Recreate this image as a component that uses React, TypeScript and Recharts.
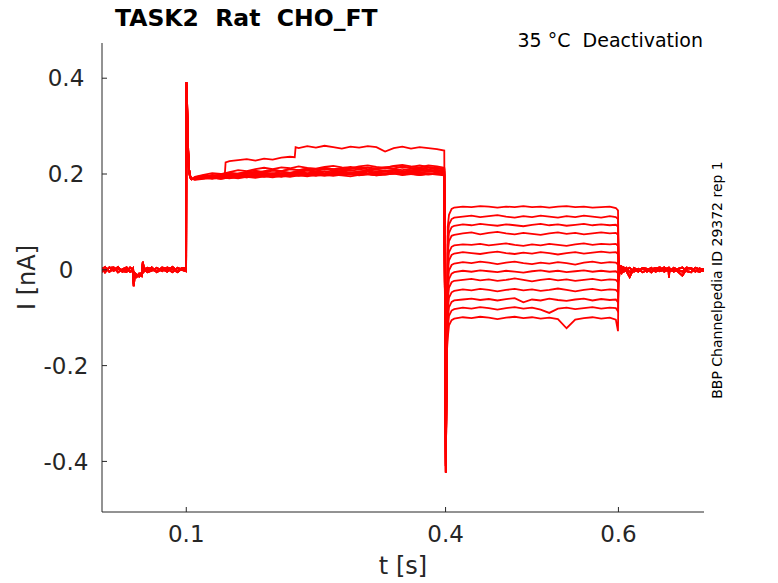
import { LineChart, Line, XAxis, YAxis } from 'recharts';

const RED = '#ff0000';
const INK = '#262626';
const FONT = '"DejaVu Sans", sans-serif';

// holding current before the first step; traces overlap, three noise variants
const baseT = [0.0025, 0.006, 0.011, 0.016, 0.021, 0.026, 0.031, 0.035, 0.0385, 0.0392, 0.0402, 0.0425, 0.0455,
  0.0485, 0.0493, 0.0497, 0.0508, 0.055, 0.06, 0.066, 0.072, 0.078, 0.084, 0.09, 0.095, 0.0998];
const baseV = [
  [0.004, -0.005, 0.005, -0.002, 0.006, -0.004, 0.001, -0.004, 0.003, -0.034, -0.016, -0.01, -0.014, -0.008, -0.004, 0.017, 0.005, -0.002, 0.005, -0.005, 0.002, -0.004, 0.006, -0.003, 0.004, 0.003],
  [-0.004, -0.001, 0.004, 0.005, -0.005, 0.001, 0.005, -0.003, -0.004, -0.026, -0.01, -0.015, -0.008, -0.013, -0.006, 0.012, -0.004, 0.004, 0.001, -0.004, 0.005, 0.002, -0.005, 0.004, 0.0, -0.003],
  [0.001, 0.006, -0.004, 0.002, 0.003, -0.003, -0.004, 0.005, 0.0, -0.03, -0.006, -0.011, -0.01, -0.006, -0.003, 0.014, 0.002, -0.005, -0.002, 0.004, -0.003, 0.005, 0.001, -0.005, 0.003, 0.0],
];

// capacitive spike at the activation step
const riseT = [0.1002, 0.1007, 0.1014, 0.1022, 0.1032, 0.1045, 0.106];
const riseV = [
  [0.392, 0.37, 0.31, 0.25, 0.21, 0.196, 0.19],
  [0.386, 0.362, 0.3, 0.243, 0.205, 0.193, 0.189],
];

// activation plateau, traces 1..12
const actT = [0.11, 0.12, 0.13, 0.14, 0.15, 0.16, 0.17, 0.18, 0.19, 0.2, 0.21, 0.22, 0.23, 0.24, 0.25, 0.26, 0.27,
  0.28, 0.29, 0.3, 0.31, 0.32, 0.33, 0.34, 0.35, 0.36, 0.37, 0.38, 0.39, 0.3985];
const actV = [
  [0.191, 0.194, 0.192, 0.196, 0.195, 0.198, 0.196, 0.199, 0.201, 0.198, 0.202, 0.2, 0.203, 0.201, 0.204, 0.202, 0.205, 0.203, 0.201, 0.204, 0.206, 0.203, 0.205, 0.207, 0.204, 0.206, 0.208, 0.205, 0.207, 0.204],
  [0.189, 0.191, 0.193, 0.19, 0.193, 0.195, 0.193, 0.196, 0.194, 0.197, 0.195, 0.198, 0.196, 0.199, 0.197, 0.2, 0.198, 0.201, 0.199, 0.202, 0.2, 0.198, 0.201, 0.203, 0.2, 0.202, 0.204, 0.201, 0.203, 0.2],
  [0.193, 0.197, 0.195, 0.199, 0.203, 0.201, 0.205, 0.207, 0.204, 0.208, 0.206, 0.21, 0.208, 0.211, 0.209, 0.212, 0.21, 0.208, 0.211, 0.213, 0.21, 0.212, 0.214, 0.211, 0.216, 0.213, 0.211, 0.214, 0.212, 0.21],
  [0.19, 0.192, 0.194, 0.192, 0.195, 0.193, 0.197, 0.195, 0.198, 0.196, 0.199, 0.197, 0.2, 0.198, 0.196, 0.199, 0.201, 0.198, 0.2, 0.197, 0.2, 0.202, 0.199, 0.201, 0.203, 0.2, 0.198, 0.201, 0.199, 0.197],
  [0.192, 0.195, 0.198, 0.196, 0.2, 0.198, 0.202, 0.205, 0.203, 0.207, 0.205, 0.203, 0.206, 0.208, 0.206, 0.21, 0.207, 0.209, 0.212, 0.209, 0.207, 0.21, 0.212, 0.21, 0.208, 0.211, 0.213, 0.21, 0.212, 0.209],
  [0.19, 0.193, 0.191, 0.194, 0.192, 0.195, 0.193, 0.196, 0.199, 0.197, 0.2, 0.198, 0.201, 0.199, 0.202, 0.2, 0.203, 0.201, 0.204, 0.202, 0.2, 0.203, 0.205, 0.202, 0.204, 0.206, 0.203, 0.205, 0.207, 0.204],
  [0.194, 0.198, 0.202, 0.2, 0.204, 0.208, 0.206, 0.21, 0.213, 0.21, 0.214, 0.212, 0.216, 0.213, 0.211, 0.215, 0.217, 0.214, 0.212, 0.216, 0.218, 0.215, 0.213, 0.217, 0.219, 0.216, 0.214, 0.218, 0.216, 0.213],
  [0.189, 0.192, 0.19, 0.193, 0.191, 0.194, 0.197, 0.195, 0.198, 0.196, 0.194, 0.197, 0.199, 0.197, 0.2, 0.198, 0.196, 0.199, 0.201, 0.198, 0.2, 0.197, 0.2, 0.202, 0.199, 0.201, 0.198, 0.2, 0.202, 0.199],
  [0.191, 0.195, 0.193, 0.197, 0.2, 0.198, 0.201, 0.199, 0.203, 0.201, 0.205, 0.202, 0.204, 0.207, 0.204, 0.206, 0.203, 0.206, 0.208, 0.205, 0.207, 0.209, 0.206, 0.208, 0.205, 0.208, 0.21, 0.207, 0.209, 0.206],
  [0.192, 0.194, 0.197, 0.195, 0.198, 0.196, 0.2, 0.203, 0.2, 0.202, 0.199, 0.202, 0.205, 0.202, 0.204, 0.201, 0.204, 0.206, 0.203, 0.205, 0.202, 0.205, 0.207, 0.204, 0.206, 0.203, 0.206, 0.208, 0.205, 0.203],
  [0.19, 0.193, 0.196, 0.199, 0.197, 0.201, 0.204, 0.202, 0.206, 0.209, 0.206, 0.21, 0.208, 0.211, 0.209, 0.213, 0.21, 0.212, 0.215, 0.212, 0.214, 0.211, 0.214, 0.216, 0.213, 0.215, 0.218, 0.215, 0.213, 0.211],
  [0.188, 0.19, 0.192, 0.19, 0.193, 0.191, 0.194, 0.192, 0.195, 0.193, 0.196, 0.194, 0.197, 0.195, 0.198, 0.196, 0.199, 0.197, 0.195, 0.198, 0.2, 0.197, 0.199, 0.201, 0.198, 0.2, 0.202, 0.199, 0.201, 0.198],
];

// trace 0 steps up twice during activation
const stepT = [0.11, 0.12, 0.13, 0.14, 0.1445, 0.1455, 0.15, 0.16, 0.17, 0.18, 0.19, 0.2, 0.21, 0.22, 0.2255, 0.2265,
  0.23, 0.24, 0.25, 0.26, 0.27, 0.28, 0.29, 0.3, 0.31, 0.32, 0.33, 0.34, 0.35, 0.36, 0.37, 0.38, 0.39, 0.3985];
const stepV = [0.192, 0.196, 0.194, 0.197, 0.196, 0.224, 0.227, 0.229, 0.231, 0.228, 0.232, 0.23, 0.234, 0.236, 0.235, 0.256,
  0.254, 0.258, 0.255, 0.259, 0.256, 0.253, 0.257, 0.255, 0.258, 0.256, 0.247, 0.254, 0.257, 0.253, 0.256, 0.254, 0.252, 0.249];

// tail current spike at the deactivation step
const dropT = [0.4003, 0.4009, 0.4016];
const dropV = [
  [-0.423, -0.28, -0.17],
  [-0.41, -0.262, -0.158],
];

const deactT = [0.4025, 0.404, 0.407, 0.41, 0.42, 0.43, 0.44, 0.45, 0.46, 0.47, 0.48, 0.49, 0.5, 0.51, 0.52, 0.53,
  0.54, 0.55, 0.56, 0.57, 0.58, 0.59, 0.597, 0.5995];
const deactV = [
  [0.09, 0.115, 0.127, 0.13, 0.132, 0.131, 0.133, 0.132, 0.13, 0.132, 0.131, 0.133, 0.131, 0.132, 0.13, 0.132, 0.133, 0.131, 0.132, 0.13, 0.131, 0.132, 0.129, 0.124],
  [0.07, 0.095, 0.106, 0.109, 0.111, 0.113, 0.11, 0.112, 0.114, 0.111, 0.109, 0.112, 0.11, 0.113, 0.111, 0.109, 0.112, 0.11, 0.113, 0.111, 0.109, 0.112, 0.11, 0.106],
  [0.052, 0.077, 0.089, 0.092, 0.095, 0.093, 0.096, 0.094, 0.092, 0.095, 0.093, 0.091, 0.094, 0.096, 0.093, 0.095, 0.092, 0.094, 0.096, 0.093, 0.095, 0.093, 0.094, 0.09],
  [0.034, 0.06, 0.071, 0.073, 0.076, 0.078, 0.074, 0.077, 0.079, 0.076, 0.074, 0.077, 0.075, 0.073, 0.076, 0.078, 0.075, 0.077, 0.074, 0.076, 0.078, 0.076, 0.077, 0.073],
  [0.012, 0.037, 0.048, 0.051, 0.053, 0.052, 0.054, 0.051, 0.053, 0.055, 0.052, 0.05, 0.053, 0.051, 0.054, 0.052, 0.05, 0.053, 0.055, 0.052, 0.054, 0.053, 0.054, 0.05],
  [-0.006, 0.02, 0.031, 0.034, 0.037, 0.035, 0.033, 0.036, 0.038, 0.035, 0.033, 0.036, 0.034, 0.037, 0.035, 0.032, 0.035, 0.037, 0.034, 0.036, 0.038, 0.036, 0.037, 0.033],
  [-0.027, -0.001, 0.01, 0.013, 0.016, 0.014, 0.017, 0.015, 0.012, 0.015, 0.017, 0.014, 0.012, 0.015, 0.013, 0.016, 0.014, 0.011, 0.015, 0.017, 0.014, 0.016, 0.015, 0.011],
  [-0.045, -0.019, -0.008, -0.005, -0.002, -0.004, -0.001, -0.003, -0.005, -0.002, -0.004, -0.006, -0.003, -0.001, -0.004, -0.002, -0.005, -0.003, -0.001, -0.004, -0.002, -0.004, -0.003, -0.007],
  [-0.063, -0.037, -0.026, -0.023, -0.021, -0.019, -0.022, -0.02, -0.023, -0.021, -0.018, -0.021, -0.024, -0.021, -0.019, -0.022, -0.02, -0.023, -0.021, -0.019, -0.022, -0.02, -0.021, -0.026],
  [-0.084, -0.058, -0.047, -0.044, -0.041, -0.043, -0.04, -0.042, -0.045, -0.042, -0.04, -0.043, -0.041, -0.044, -0.042, -0.039, -0.042, -0.045, -0.042, -0.04, -0.043, -0.041, -0.042, -0.047],
  [-0.104, -0.078, -0.067, -0.064, -0.062, -0.06, -0.063, -0.061, -0.064, -0.061, -0.059, -0.068, -0.062, -0.064, -0.06, -0.063, -0.065, -0.062, -0.06, -0.064, -0.061, -0.063, -0.062, -0.068],
  [-0.122, -0.096, -0.085, -0.082, -0.079, -0.081, -0.078, -0.08, -0.083, -0.08, -0.078, -0.081, -0.079, -0.083, -0.09, -0.081, -0.079, -0.082, -0.08, -0.078, -0.081, -0.079, -0.08, -0.087],
  [-0.142, -0.116, -0.105, -0.102, -0.099, -0.101, -0.098, -0.1, -0.103, -0.1, -0.098, -0.101, -0.099, -0.102, -0.1, -0.103, -0.122, -0.104, -0.101, -0.099, -0.102, -0.1, -0.104, -0.128],
];

// back at holding potential
const tailT = [0.6003, 0.6008, 0.6015, 0.6025, 0.604, 0.606, 0.609, 0.613, 0.618, 0.623, 0.628, 0.633, 0.638, 0.643,
  0.648, 0.653, 0.658, 0.6585, 0.659, 0.664, 0.669, 0.674, 0.679, 0.684, 0.689, 0.694, 0.699];
const tailV = [
  [0.02, -0.015, 0.01, -0.007, 0.005, -0.002, 0.004, -0.005, 0.001, -0.004, 0.004, 0.002, -0.005, 0.003, 0.005, -0.004, 0.001, -0.016, 0.003, -0.004, 0.002, 0.005, -0.003, -0.005, 0.004, 0.001, 0.002],
  [-0.022, 0.012, -0.008, 0.006, -0.005, 0.005, 0.001, 0.004, -0.004, 0.002, -0.005, -0.001, 0.004, -0.004, 0.0, 0.005, -0.003, 0.0, -0.004, 0.004, 0.0, -0.004, 0.005, 0.002, -0.004, 0.003, -0.003],
  [0.008, -0.006, 0.004, -0.003, 0.002, -0.004, -0.002, -0.015, 0.004, -0.001, 0.003, -0.004, 0.001, 0.004, -0.003, 0.001, 0.004, 0.0, -0.003, 0.001, -0.004, -0.012, 0.002, 0.004, -0.002, -0.004, 0.0],
];

const xTicks = [0.1, 0.4, 0.6];
const yTicks = [-0.4, -0.2, 0, 0.2, 0.4];

type Pt = { t: number; v: number };

function seg(out: Pt[], ts: number[], vs: number[]) {
  ts.forEach((t, k) => {
    if (vs[k] !== undefined) out.push({ t, v: vs[k] });
  });
}

const traces: Pt[][] = deactV.map((dv, i) => {
  const pts: Pt[] = [];
  seg(pts, baseT, baseV[i % 3]);
  seg(pts, riseT, riseV[i % 2]);
  if (i === 0) seg(pts, stepT, stepV);
  else seg(pts, actT, actV[i - 1]);
  seg(pts, dropT, dropV[i % 2]);
  seg(pts, deactT, dv);
  seg(pts, tailT, tailV[i % 3]);
  return pts;
});

const XTick = ({ x, y, payload }: any) => (
  <text x={x} y={y} dy="0.73em" textAnchor="middle" fontSize={23} fontFamily={FONT} fill={INK}>
    {payload.value}
  </text>
);

const YTick = ({ x, y, payload }: any) => (
  <text x={x} y={y} dy="0.36em" textAnchor="middle" fontSize={23} fontFamily={FONT} fill={INK}>
    {payload.value}
  </text>
);

export default function App() {
  return (
    <div style={{ position: 'absolute', left: 0, top: 0, width: 778, height: 583, background: '#fff' }}>
      <LineChart width={778} height={583} margin={{ top: 43, right: 74, bottom: 0, left: 0 }}>
        <XAxis type="number" dataKey="t" domain={[0.0025, 0.699]} ticks={xTicks} interval={0} allowDataOverflow
          height={71} axisLine={{ stroke: INK }} tickLine={{ stroke: INK }} tickSize={-5} tickMargin={18} tick={XTick} />
        <YAxis type="number" domain={[-0.5056, 0.4735]} ticks={yTicks} interval={0} allowDataOverflow
          width={102} axisLine={{ stroke: INK }} tickLine={{ stroke: INK }} tickSize={-5} tickMargin={41} tick={YTick} />
        {traces.map((d, i) => (
          <Line key={i} data={d} dataKey="v" type="linear" stroke={RED} strokeWidth={1.8}
            dot={false} activeDot={false} isAnimationActive={false} />
        ))}
      </LineChart>
      <svg width={778} height={583} style={{ position: 'absolute', left: 0, top: 0, pointerEvents: 'none' }}>
        <text x={115} y={26} fontSize={23.5} fontWeight="bold" fontFamily={FONT} fill="#000" style={{ whiteSpace: 'pre' }}>
          TASK2  Rat  CHO_FT
        </text>
        <text x={703} y={46.5} fontSize={19} textAnchor="end" fontFamily={FONT} fill="#000" style={{ whiteSpace: 'pre' }}>
          35 °C  Deactivation
        </text>
        <text transform="translate(722,280) rotate(-90)" fontSize={14} textAnchor="middle" fontFamily={FONT} fill="#000">
          BBP Channelpedia ID 29372 rep 1
        </text>
        <text transform="translate(35,277.5) rotate(-90)" fontSize={24} textAnchor="middle" fontFamily={FONT} fill={INK}>
          I [nA]
        </text>
        <text x={403} y={574} fontSize={24} textAnchor="middle" fontFamily={FONT} fill={INK}>
          t [s]
        </text>
      </svg>
    </div>
  );
}
